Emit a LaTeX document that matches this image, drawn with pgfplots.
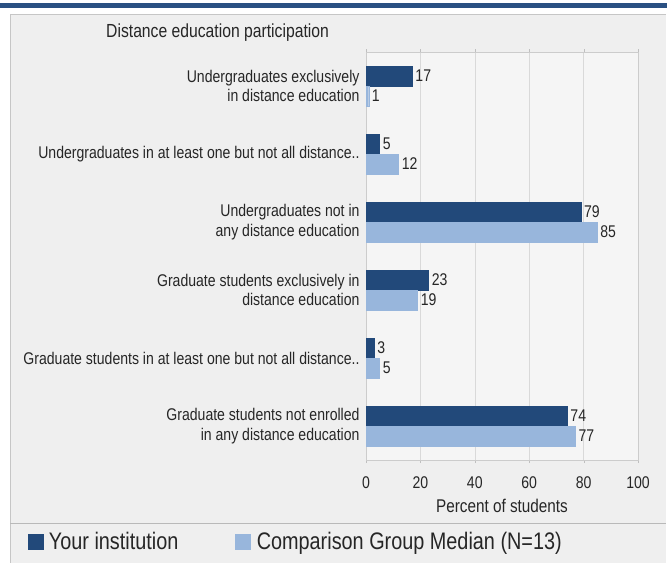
\documentclass[border=0pt]{standalone}
\usepackage{pgfplots}
\pgfplotsset{compat=1.18}
\usepackage{fontspec}
\setmainfont{Liberation Sans}[FakeStretch=0.83]
\definecolor{darkb}{HTML}{22497A}
\definecolor{lightb}{HTML}{98B6DC}
\definecolor{panel}{HTML}{EFEFEF}
\definecolor{band}{HTML}{2A5082}
\definecolor{txt}{HTML}{262626}
\begin{document}
\begin{tikzpicture}[x=1bp,y=1bp]
\useasboundingbox (0,0) rectangle (667,-563);
\fill[white] (0,0) rectangle (667,-563);
\fill[band] (0,-3) rectangle (667,-8);
\fill[panel] (10,-14) rectangle (666,-563);
\draw[gray!45] (10,-14) -- (666,-14);
\draw[gray!45] (10,-14) -- (10,-563);
\draw[gray!55] (10,-523) -- (666,-523);
\node[anchor=west,font=\fontsize{19}{22}\selectfont,text=txt,inner sep=0] at (106,-33) {Distance education participation};
\begin{axis}[
  at={(366bp,-460bp)}, anchor=south west,
  scale only axis, width=272bp, height=408bp,
  xbar, bar width=20bp,
  xmin=0, xmax=100, ymin=-0.5, ymax=5.5, y dir=reverse,
  axis background/.style={fill=panel!60!white},
  axis line style={gray!40},
  xmajorgrids, grid style={gray!30},
  xtick={0,20,...,100},
  ytick={0,...,5},
  yticklabels={{Undergraduates exclusively\\in distance education},
    {Undergraduates in at least one but not all distance..},
    {Undergraduates not in\\any distance education},
    {Graduate students exclusively in\\distance education},
    {Graduate students in at least one but not all distance..},
    {Graduate students not enrolled\\in any distance education}},
  yticklabel style={align=right, font=\fontsize{17}{19.5}\selectfont, text=txt},
  xticklabel style={font=\fontsize{17}{19}\selectfont, text=txt, yshift=-10bp},
  /pgf/number format/assume math mode=true,
  major y tick style={draw=none},
  major x tick style={gray!50},
  tick align=outside, major tick length=3bp,
  xlabel={Percent of students},
  xlabel style={font=\fontsize{18.5}{20}\selectfont, text=txt, yshift=-4bp},
  nodes near coords,
  nodes near coords style={font=\fontsize{17}{19}\selectfont, text=txt, anchor=west, inner sep=3bp},
  legend columns=2,
  legend style={at={(-1.245,-0.2)}, anchor=west, draw=none, fill=none,
    font=\fontsize{24}{26}\selectfont, text=txt, inner sep=0pt,
    /tikz/every odd column/.append style={column sep=4bp},
    /tikz/every even column/.append style={column sep=55bp}},
  legend image code/.code={\fill[#1] (0bp,-7.5bp) rectangle (15bp,7.5bp);},
]
\addplot[fill=darkb, draw=darkb, bar shift=10bp] coordinates {(17,0) (5,1) (79,2) (23,3) (3,4) (74,5)};
\addplot[fill=lightb, draw=lightb, bar shift=-10bp] coordinates {(1,0) (12,1) (85,2) (19,3) (5,4) (77,5)};
\legend{Your institution, Comparison Group Median (N=13)}
\end{axis}
\end{tikzpicture}
\end{document}
